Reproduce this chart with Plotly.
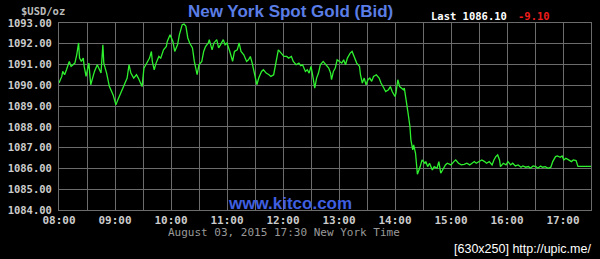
import plotly.graph_objects as go
import pandas as pd

# ---- data (minutes after 08:00, bid price) ----
minutes = [0, 3, 4, 6, 8, 10, 11, 13, 17, 19, 21, 22, 24, 26, 27, 29, 32, 34, 36, 38,
           41, 43, 45, 47, 48, 51, 54, 58, 61, 63, 67, 70, 73, 75, 77, 80, 83, 85, 89, 91,
           94, 97, 99, 100, 102, 104, 107, 109, 112, 115, 116, 119, 122, 124, 127, 129, 132, 134, 136, 138,
           140, 143, 145, 148, 150, 153, 155, 157, 160, 161, 164, 166, 169, 171, 173, 176, 178, 180, 183, 186,
           188, 191, 193, 195, 198, 201, 203, 205, 207, 209, 212, 214, 217, 219, 222, 225, 227, 230, 233, 235,
           238, 241, 244, 246, 249, 251, 254, 257, 259, 261, 264, 266, 268, 270, 272, 274, 276, 278, 280, 283,
           286, 289, 291, 292, 294, 296, 298, 300, 303, 305, 307, 309, 312, 314, 316, 319, 322, 323, 325, 327,
           329, 331, 333, 335, 337, 340, 343, 345, 348, 350, 353, 355, 357, 360, 361, 363, 365, 367, 369, 370,
           372, 374, 376, 377, 379, 380, 382, 383, 384, 387, 389, 392, 393, 395, 397, 400, 402, 405, 407, 409,
           411, 414, 416, 420, 423, 425, 428, 431, 434, 437, 440, 442, 445, 447, 450, 453, 456, 458, 461, 464,
           466, 468, 470, 472, 473, 476, 479, 481, 484, 486, 489, 492, 495, 497, 500, 503, 505, 508, 511, 513,
           516, 518, 521, 524, 527, 529, 532, 534, 537, 539, 541, 543, 546, 549, 551, 554, 556, 570]
prices = [1090.11, 1090.43, 1090.67, 1090.51, 1090.75, 1090.99, 1091.15, 1090.91, 1091.07, 1091.47,
          1092.04, 1091.31, 1091.15, 1091.31, 1090.91, 1090.43, 1091.07, 1090.03, 1090.43, 1090.67,
          1090.99, 1090.75, 1090.59, 1091.95, 1091.07, 1090.59, 1089.94, 1089.54, 1089.06, 1089.30,
          1089.70, 1090.03, 1090.35, 1090.99, 1090.59, 1090.35, 1090.51, 1090.35, 1089.94, 1090.83,
          1091.07, 1091.31, 1091.63, 1091.15, 1090.75, 1091.07, 1091.39, 1091.31, 1091.71, 1091.87,
          1092.11, 1092.44, 1092.11, 1091.63, 1091.95, 1092.44, 1092.92, 1092.95, 1092.84, 1092.28,
          1092.04, 1091.80, 1091.15, 1090.51, 1090.99, 1091.15, 1091.63, 1091.87, 1092.04, 1092.20,
          1091.71, 1092.04, 1092.20, 1091.80, 1091.95, 1092.20, 1091.95, 1092.04, 1091.63, 1091.15,
          1091.63, 1091.71, 1092.04, 1091.63, 1091.47, 1091.15, 1091.23, 1091.39, 1091.07, 1090.67,
          1090.03, 1090.35, 1090.67, 1090.75, 1090.59, 1090.51, 1090.43, 1090.51, 1091.15, 1091.71,
          1091.55, 1091.39, 1091.39, 1091.31, 1091.39, 1091.15, 1090.99, 1091.07, 1090.95, 1090.99,
          1090.67, 1090.75, 1090.59, 1090.91, 1090.43, 1089.87, 1090.35, 1090.59, 1090.99, 1091.15,
          1090.99, 1090.83, 1090.59, 1090.27, 1090.67, 1090.83, 1091.23, 1091.15, 1091.07, 1091.23,
          1090.99, 1091.31, 1091.55, 1091.63, 1091.39, 1091.07, 1090.91, 1090.51, 1090.11, 1090.35,
          1090.03, 1090.27, 1090.35, 1090.19, 1090.43, 1090.51, 1090.35, 1090.11, 1089.87, 1089.70,
          1089.79, 1089.94, 1089.70, 1089.46, 1089.62, 1090.27, 1089.94, 1089.87, 1089.79, 1089.87,
          1089.14, 1088.66, 1088.02, 1087.38, 1086.89, 1087.13, 1086.73, 1086.09, 1085.72, 1086.09,
          1086.41, 1086.25, 1086.33, 1086.09, 1086.25, 1085.93, 1086.09, 1086.01, 1086.33, 1085.77,
          1085.93, 1086.17, 1086.25, 1086.17, 1086.33, 1086.41, 1086.25, 1086.17, 1086.20, 1086.25,
          1086.17, 1086.25, 1086.33, 1086.25, 1086.33, 1086.41, 1086.33, 1086.25, 1086.33, 1086.17,
          1086.41, 1086.57, 1086.65, 1086.41, 1086.09, 1086.25, 1086.17, 1086.33, 1086.17, 1086.25,
          1086.12, 1086.17, 1086.06, 1086.12, 1086.06, 1086.09, 1086.01, 1086.12, 1086.09, 1086.01,
          1086.12, 1086.06, 1086.09, 1086.01, 1086.06, 1086.33, 1086.57, 1086.60, 1086.54, 1086.60,
          1086.41, 1086.49, 1086.41, 1086.33, 1086.41, 1086.38, 1086.10, 1086.10]

title_text = "New York Spot Gold (Bid)"
unit_text = "$USD/oz"
last_text = "Last 1086.10"
change_text = "-9.10"
site_text = "www.kitco.com"
stamp_text = "August 03, 2015 17:30 New York Time"
upic_text = "[630x250] http://upic.me/"
y_range = [1084, 1093]
day = "2015-08-03"

times = pd.Timestamp(f"{day} 08:00") + pd.to_timedelta(minutes, unit="m")

W, H = 600, 259
L, R, T, B = 58, 8, 23, 49
PW, PH = W - L - R, H - T - B


def px(x):
    return (x - L) / PW


def py(y):
    return (H - B - y) / PH


fig = go.Figure()
fig.add_trace(go.Scatter(x=times, y=prices, mode="lines",
                         line=dict(color="#2ef02e", width=1.3),
                         hoverinfo="skip", showlegend=False))

mono = "DejaVu Sans Mono"
grid = "#6c6c6c"
fig.update_layout(
    width=W, height=H,
    margin=dict(l=L, r=R, t=T, b=B, pad=0),
    paper_bgcolor="black", plot_bgcolor="black",
    xaxis=dict(
        type="date",
        range=[f"{day} 08:00", f"{day} 17:30"],
        dtick=3600000, tick0=f"{day} 08:00", tickformat="%H:%M",
        showgrid=True, gridcolor=grid, gridwidth=1,
        minor=dict(dtick=1800000, tick0=f"{day} 08:00", showgrid=True, gridcolor=grid, gridwidth=1),
        showline=True, linecolor=grid, linewidth=1, mirror=True,
        zeroline=False, ticks="",
        tickfont=dict(family=mono, size=11, color="#cccccc", weight="bold"),
    ),
    yaxis=dict(
        range=y_range, dtick=1, tickformat=".2f",
        showgrid=True, gridcolor=grid, gridwidth=1,
        showline=True, linecolor=grid, linewidth=1, mirror=True,
        zeroline=False, ticks="", ticklabelstandoff=4,
        tickfont=dict(family=mono, size=10.5, color="#cccccc", weight="bold"),
    ),
)

ann = [
    dict(text=title_text, x=px(290), y=py(12), xanchor="center", yanchor="middle",
         font=dict(family="Liberation Sans", size=17, color="#5a7de6", weight="bold")),
    dict(text=unit_text, x=px(18), y=py(11.5), xanchor="left", yanchor="middle",
         font=dict(family=mono, size=10.5, color="#bbbbbb", weight="bold")),
    dict(text=last_text, x=px(429), y=py(16), xanchor="left", yanchor="middle",
         font=dict(family=mono, size=10.5, color="#ffffff", weight="bold")),
    dict(text=change_text, x=px(517), y=py(16), xanchor="left", yanchor="middle",
         font=dict(family=mono, size=10.5, color="#ee1c1c", weight="bold")),
    dict(text=site_text, x=px(290), y=py(203), xanchor="center", yanchor="middle",
         font=dict(family="Liberation Sans", size=17, color="#3f5fe0", weight="bold")),
    dict(text=stamp_text, x=px(165), y=py(232.5), xanchor="left", yanchor="middle",
         font=dict(family=mono, size=11, color="#999999")),
    dict(text=upic_text, x=px(594), y=py(249), xanchor="right", yanchor="middle",
         font=dict(family="Liberation Sans", size=12.5, color="#ffffff")),
]
for a in ann:
    a.update(xref="paper", yref="paper", showarrow=False)
fig.update_layout(annotations=ann)

fig.write_html("out.html")
